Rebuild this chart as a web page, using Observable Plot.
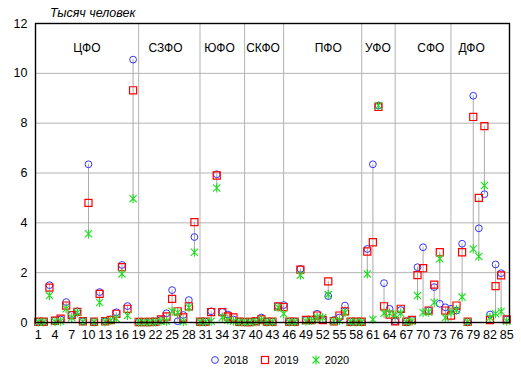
<!DOCTYPE html>
<html><head><meta charset="utf-8">
<script src="https://cdn.jsdelivr.net/npm/d3@7"></script>
<script src="https://cdn.jsdelivr.net/npm/@observablehq/plot@0.6"></script>
<style>
body{margin:0;background:#fff;font-family:"Liberation Sans",Arial,sans-serif;}
#wrap{position:relative;width:521px;height:377px;}
#title{position:absolute;left:50px;top:6px;font-style:italic;font-size:12.5px;color:#000;}
#legend{position:absolute;left:0;top:354px;width:521px;display:flex;justify-content:center;gap:12px;font-size:11px;color:#000;padding-left:38px;box-sizing:border-box}
#legend span{display:inline-flex;align-items:center;gap:4px}
</style></head><body>
<div id="wrap"><div id="title">Тысяч человек</div><div id="legend"></div></div>
<script>
const regions = d3.range(1, 86);
const v2018 = [0.03,0.03,1.5,0.08,0.12,0.82,0.3,0.45,0.05,6.35,0.03,1.22,0.05,0.12,0.41,2.31,0.66,10.55,
 0.02,0.02,0.02,0.03,0.1,0.37,1.3,0.05,0.3,0.9,3.43,
 0.03,0.03,0.45,5.95,0.42,0.32,0.12,0.03,
 0.02,0.02,0.05,0.2,0.03,0.03,0.65,
 0.7,0.03,0.03,2.15,0.1,0.1,0.35,0.1,1.06,0.1,0.2,0.68,0.03,0.03,
 0.03,2.95,6.35,8.7,1.58,0.55,
 0.05,0.5,0.05,0.1,2.22,3.02,0.48,1.42,0.75,0.61,
 0.55,0.48,3.16,0.03,9.1,3.78,5.15,0.32,2.33,1.98,0.12];
const v2019 = [0.03,0.03,1.4,0.07,0.15,0.68,0.3,0.43,0.05,4.8,0.03,1.15,0.05,0.1,0.35,2.22,0.55,9.32,
 0.02,0.02,0.02,0.03,0.12,0.24,0.95,0.45,0.2,0.65,4.03,
 0.03,0.03,0.42,5.9,0.42,0.24,0.2,0.03,
 0.02,0.02,0.05,0.12,0.03,0.03,0.65,
 0.62,0.03,0.03,2.12,0.1,0.1,0.28,0.1,1.65,0.05,0.28,0.45,0.03,0.03,
 0.03,2.85,3.22,8.65,0.65,0.32,
 0.05,0.55,0.03,0.1,1.9,2.18,0.48,1.52,2.82,0.48,
 0.28,0.68,2.82,0.03,8.25,5.0,7.88,0.1,1.46,1.89,0.12];
const v2020 = [0.02,0.02,1.08,0.03,0.05,0.55,0.2,0.4,0.03,3.56,0.02,0.8,0.03,0.08,0.15,1.95,0.28,4.97,
 0.01,0.01,0.01,0.02,0.05,0.05,0.45,0.4,0.03,0.6,2.82,
 0.02,0.02,0.05,5.4,0.2,0.1,0.05,0.02,
 0.01,0.01,0.03,0.1,0.02,0.02,0.6,
 0.35,0.02,0.02,1.9,0.05,0.08,0.2,0.2,1.12,0.05,0.08,0.4,0.02,0.02,
 0.02,1.95,0.12,8.7,0.37,0.37,
 0.3,0.37,0.02,0.05,1.08,0.4,0.42,0.8,2.56,0.19,
 0.42,0.51,1.02,0.02,2.95,2.65,5.5,0.2,0.35,0.44,0.05];
const districtNames = ["ЦФО","СЗФО","ЮФО","СКФО","ПФО","УФО","СФО","ДФО"];
const districtLabelX = [9.7,23.8,33.5,41.3,53,61.9,71.4,78.7];
const districtStart = [19,30,38,45,59,65,75];
const xTicks = d3.range(1, 86, 3);
const yTicks = [0,2,4,6,8,10,12];
const seriesNames = ["2018","2019","2020"];

const cBlue = "#3333ff", cRed = "#ff0000", cGreen = "#22dd22";
const star = {draw(ctx, size){ const r = Math.sqrt(size/Math.PI); const d = r*0.78;
  ctx.moveTo(0,-r); ctx.lineTo(0,r); ctx.moveTo(-d,-d); ctx.lineTo(d,d); ctx.moveTo(-d,d); ctx.lineTo(d,-d);}};

const rows = regions.map((r,i)=>({r, a:v2018[i], b:v2019[i], c:v2020[i],
  lo:Math.min(v2018[i],v2019[i],v2020[i]), hi:Math.max(v2018[i],v2019[i],v2020[i])}));

const chart = Plot.plot({
  width: 521, height: 377,
  marginLeft: 35, marginRight: 12, marginTop: 23, marginBottom: 55,
  style: {fontFamily: '"Liberation Sans", Arial, sans-serif', fontSize: "12.5px", background: "transparent"},
  x: {type: "linear", domain: [0.5, 85.5]},
  y: {domain: [0, 12]},
  marks: [
    Plot.gridY([2,4,6,8,10], {stroke: "#b3b3b3", strokeOpacity: 1}),
    Plot.ruleX(districtStart, {y1: 0, y2: 12, stroke: "#b3b3b3"}),
    Plot.ruleX(rows, {x: "r", y1: "lo", y2: "hi", stroke: "#aaaaaa"}),
    Plot.dot(rows, {x: "r", y: "a", symbol: "circle", r: 3.4, stroke: cBlue, strokeWidth: 1, fill: "none"}),
    Plot.dot(rows, {x: "r", y: "b", symbol: "square", r: 4, stroke: cRed, strokeWidth: 1.2, fill: "none"}),
    Plot.dot(rows, {x: "r", y: "c", symbol: star, r: 4.6, stroke: cGreen, strokeWidth: 1.1, fill: "none"}),
    Plot.text(districtNames, {x: (d,i)=>districtLabelX[i], y: 11, text: d=>d, fontSize: 12, fill: "#000"}),
    Plot.axisY(yTicks, {tickSize: 0, tickPadding: 8, label: null, fontSize: 12.5}),
    Plot.axisX(xTicks, {tickSize: 0, tickPadding: 8, label: null, fontSize: 12.5}),
    Plot.frame({stroke: "#000", strokeWidth: 1.4})
  ]
});
document.getElementById("wrap").prepend(chart);
chart.style.position = "absolute"; chart.style.left = "0"; chart.style.top = "0";

const lg = document.getElementById("legend");
const icons = [
  '<svg width="10" height="10"><circle cx="5" cy="5" r="3.4" fill="none" stroke="'+cBlue+'"/></svg>',
  '<svg width="10" height="10"><rect x="1.5" y="1.5" width="7" height="7" fill="none" stroke="'+cRed+'" stroke-width="1.2"/></svg>',
  '<svg width="10" height="10"><path d="M5,0.5V9.5M1.5,1.5L8.5,8.5M1.5,8.5L8.5,1.5" stroke="'+cGreen+'" stroke-width="1.1"/></svg>'
];
seriesNames.forEach((s,i)=>{ const sp=document.createElement("span"); sp.innerHTML = icons[i]+"<span>"+s+"</span>"; lg.appendChild(sp); });
</script>
</body></html>
